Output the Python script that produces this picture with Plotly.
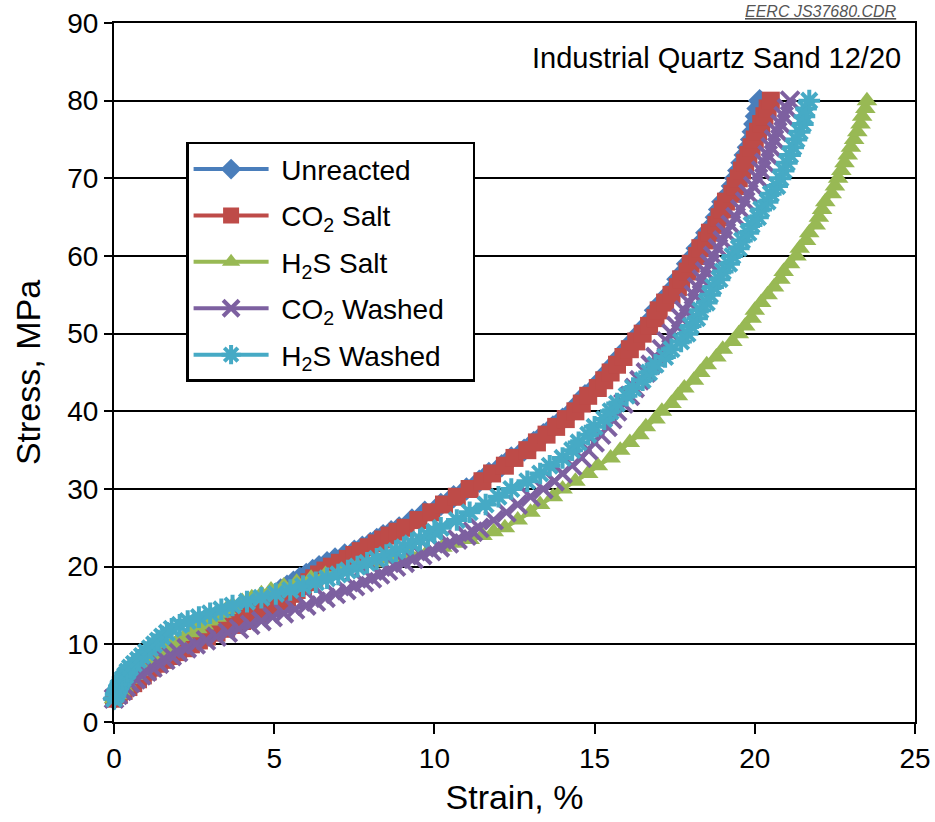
import plotly.graph_objects as go

# stress levels (MPa) shared by all runs
stress = [3, 3.5, 4, 4.5, 5, 5.5, 6, 6.5, 7, 7.5, 8, 8.5, 9, 9.5, 10, 10.5, 11,
          11.5, 12, 12.5, 13, 13.5, 14, 14.5, 15, 15.5, 16, 16.5, 17, 17.5, 18,
          18.5, 19, 19.5, 20, 20.5, 21, 21.5, 22, 22.5, 23, 23.5, 24, 24.5, 25,
          26, 27, 28, 29, 30, 31, 32, 33, 34, 35, 36, 37, 38, 39, 40, 41, 42, 43,
          44, 45, 46, 47, 48, 49, 50, 51, 52, 53, 54, 55, 56, 57, 58, 59, 60, 61,
          62, 63, 64, 65, 66, 67, 68, 69, 70, 71, 72, 73, 74, 75, 76, 77, 78, 79, 80]

# strain (%) at each stress level
unreacted = [0.0, 0.1, 0.2, 0.3, 0.4, 0.5, 0.65, 0.75, 0.9, 1.05, 1.25, 1.4, 1.6,
             1.8, 2.0, 2.25, 2.5, 2.75, 3.0, 3.25, 3.5, 3.75, 4.0, 4.25, 4.5, 4.7,
             4.9, 5.05, 5.2, 5.4, 5.6, 5.8, 6.0, 6.2, 6.4, 6.65, 6.9, 7.2, 7.5, 7.75,
             8.0, 8.2, 8.4, 8.65, 8.9,
             9.3, 9.7, 10.2, 10.6, 11.0,
             11.4, 11.7, 12.1, 12.4, 12.8, 13.1, 13.4, 13.7, 14.0, 14.3,
             14.5, 14.7, 15.0, 15.2, 15.4, 15.6, 15.8, 16.0, 16.2, 16.4,
             16.6, 16.8, 16.9, 17.1, 17.3, 17.5, 17.6, 17.8, 17.9, 18.1,
             18.2, 18.4, 18.5, 18.7, 18.8, 18.9, 19.0, 19.2, 19.3, 19.4,
             19.5, 19.6, 19.7, 19.8, 19.9, 19.95, 20.0, 20.05, 20.1, 20.15]
co2_salt = [0.0, 0.15, 0.3, 0.45, 0.6, 0.75, 0.9, 1.05, 1.2, 1.4, 1.6, 1.8, 2.0,
            2.2, 2.4, 2.65, 2.9, 3.2, 3.5, 3.75, 4.0, 4.25, 4.5, 4.75, 5.0, 5.2,
            5.4, 5.55, 5.7, 5.9, 6.1, 6.25, 6.4, 6.6, 6.8, 7.05, 7.3, 7.5, 7.7,
            7.95, 8.2, 8.4, 8.6, 8.85, 9.1,
            9.5, 9.9, 10.3, 10.7, 11.1, 11.5, 11.8, 12.2, 12.5, 12.9, 13.2, 13.5,
            13.8, 14.1, 14.4, 14.6, 14.8, 15.1, 15.3, 15.5, 15.7, 15.9, 16.1, 16.3,
            16.5, 16.7, 16.9, 17.0, 17.2, 17.4, 17.6, 17.7, 17.9, 18.0, 18.2, 18.3,
            18.5, 18.6, 18.8, 18.9, 19.0, 19.1, 19.3, 19.4, 19.5, 19.6, 19.7, 19.8,
            19.9, 20.0, 20.1, 20.2, 20.3, 20.4, 20.5]
h2s_salt = [0.0, 0.1, 0.2, 0.3, 0.4, 0.5, 0.65, 0.75, 0.9, 1.05, 1.2, 1.35, 1.5,
            1.65, 1.8, 2.0, 2.2, 2.4, 2.6, 2.8, 3.0, 3.2, 3.35, 3.5, 3.7, 4.0, 4.3,
            4.6, 4.9, 5.3, 5.7, 6.15, 6.6, 7.1, 7.6, 8.15, 8.7, 9.25, 9.8, 10.25,
            10.7, 11.1, 11.5, 11.85, 12.2,
            12.6, 13.0, 13.3, 13.7, 14.0, 14.4, 14.8, 15.1, 15.5, 15.8, 16.1, 16.4,
            16.6, 16.9, 17.1, 17.4, 17.6, 17.8, 18.1, 18.3, 18.5, 18.8, 19.0, 19.3,
            19.5, 19.7, 19.9, 20.0, 20.2, 20.4, 20.6, 20.8, 20.9, 21.1, 21.3, 21.4,
            21.6, 21.7, 21.9, 22.0, 22.1, 22.2, 22.4, 22.5, 22.6, 22.7, 22.8, 22.9,
            23.0, 23.1, 23.2, 23.3, 23.35, 23.45, 23.5]
co2_washed = [0.0, 0.12, 0.25, 0.37, 0.5, 0.68, 0.85, 1.02, 1.2, 1.4, 1.6, 1.8,
              2.0, 2.27, 2.55, 2.87, 3.2, 3.55, 3.9, 4.25, 4.6, 4.95, 5.3, 5.65, 6.0,
              6.3, 6.6, 6.92, 7.25, 7.52, 7.8, 8.05, 8.3, 8.55, 8.8, 9.07, 9.35,
              9.62, 9.9, 10.17, 10.45, 10.72, 11.0, 11.2, 11.4,
              11.85, 12.25, 12.6, 13.0, 13.4, 13.75, 14.0, 14.3, 14.6, 14.8, 15.0,
              15.2, 15.4, 15.55, 15.7, 15.9, 16.1, 16.25, 16.4, 16.6, 16.75, 16.9,
              17.1, 17.25, 17.4, 17.55, 17.7, 17.8, 17.95, 18.1, 18.2, 18.35, 18.45,
              18.6, 18.7, 18.85, 19.0, 19.1, 19.25, 19.4, 19.55, 19.7, 19.8, 19.95,
              20.1, 20.2, 20.3, 20.4, 20.5, 20.6, 20.7, 20.8, 20.9, 21.0, 21.1]
h2s_washed = [0.0, 0.05, 0.1, 0.15, 0.2, 0.27, 0.35, 0.42, 0.5, 0.62, 0.75, 0.87,
              1.0, 1.12, 1.25, 1.37, 1.5, 1.65, 1.8, 2.05, 2.3, 2.65, 3.0, 3.35, 3.7,
              4.15, 4.6, 5.05, 5.5, 5.9, 6.3, 6.65, 7.0, 7.3, 7.6, 7.9, 8.2, 8.5,
              8.8, 9.05, 9.3, 9.55, 9.8, 10.0, 10.2,
              10.7, 11.1, 11.6, 12.0, 12.4, 12.9, 13.3, 13.6, 14.0, 14.3, 14.5, 14.8,
              15.0, 15.3, 15.5, 15.7, 16.0, 16.2, 16.5, 16.7, 16.9, 17.2, 17.4, 17.7,
              17.9, 18.0, 18.2, 18.3, 18.5, 18.6, 18.7, 18.9, 19.0, 19.2, 19.3, 19.5,
              19.6, 19.8, 19.9, 20.1, 20.2, 20.4, 20.5, 20.7, 20.8, 20.9, 21.0, 21.1,
              21.2, 21.3, 21.4, 21.5, 21.55, 21.6, 21.7]

series = [
    ("Unreacted", unreacted, "#4a7ebb", "diamond"),
    ("CO<sub>2</sub> Salt", co2_salt, "#be4b48", "square"),
    ("H<sub>2</sub>S Salt", h2s_salt, "#98b954", "triangle-up"),
    ("CO<sub>2</sub> Washed", co2_washed, "#7d60a0", "x-thin"),
    ("H<sub>2</sub>S Washed", h2s_washed, "#46aac5", "asterisk"),
]

nb = "\u00a0"  # padding inside the legend box

fig = go.Figure()
for i, (name, strain, color, symbol) in enumerate(series):
    if symbol in ("x-thin", "asterisk"):
        marker = dict(symbol=symbol, size=18, color=color,
                      line=dict(width=4, color=color))
    else:
        marker = dict(symbol=symbol, size=18, color=color,
                      line=dict(width=0))
    fig.add_trace(go.Scatter(
        x=strain, y=stress, name=nb + name + nb * 3, mode="lines+markers",
        line=dict(color=color, width=4), marker=marker,
        legendgroup=str(i), cliponaxis=False,
    ))

font = "Liberation Sans, Arial, sans-serif"

fig.update_layout(
    width=935, height=822,
    margin=dict(l=114, r=20, t=23, b=100),
    paper_bgcolor="white", plot_bgcolor="white",
    font=dict(family=font, color="black"),
    showlegend=True,
    legend=dict(
        x=0.09, y=0.83, xanchor="left", yanchor="top",
        bgcolor="white", bordercolor="black", borderwidth=2.5,
        font=dict(size=28, family=font), itemwidth=75,
        tracegroupgap=7,
    ),
    xaxis=dict(
        range=[0, 25], tickvals=[0, 5, 10, 15, 20, 25],
        showgrid=False, zeroline=False, automargin=False,
        ticklabeloverflow="allow",
        showline=True, linecolor="black", linewidth=2, mirror=True,
        ticks="outside", ticklen=10, tickwidth=2, tickcolor="black",
        tickfont=dict(size=28),
        title=dict(text="Strain, %", font=dict(size=34), standoff=13),
    ),
    yaxis=dict(
        range=[0, 90], tickvals=list(range(0, 100, 10)),
        showgrid=True, gridcolor="black", gridwidth=2, zeroline=False,
        automargin=False, ticklabeloverflow="allow",
        showline=True, linecolor="black", linewidth=2, mirror=True,
        ticks="outside", ticklen=8, tickwidth=2, tickcolor="black",
        tickfont=dict(size=28),
        title=dict(text="Stress, MPa", font=dict(size=34), standoff=16),
    ),
)

fig.add_annotation(
    text="Industrial Quartz Sand 12/20", xref="paper", yref="paper",
    x=0.985, y=0.95, xanchor="right", yanchor="middle", showarrow=False,
    font=dict(size=29, family=font),
)
fig.add_annotation(
    text="<i><u>EERC JS37680.CDR</u></i>", xref="paper", yref="paper",
    x=0.98, y=1.0, xanchor="right", yanchor="bottom", showarrow=False,
    font=dict(size=16, family=font, color="#555555"), yshift=1,
)

# drop the default page margin so the figure sits at the window corner
fig.write_html("out.html", config={"displayModeBar": False},
               post_script="document.body.style.margin='0';")
